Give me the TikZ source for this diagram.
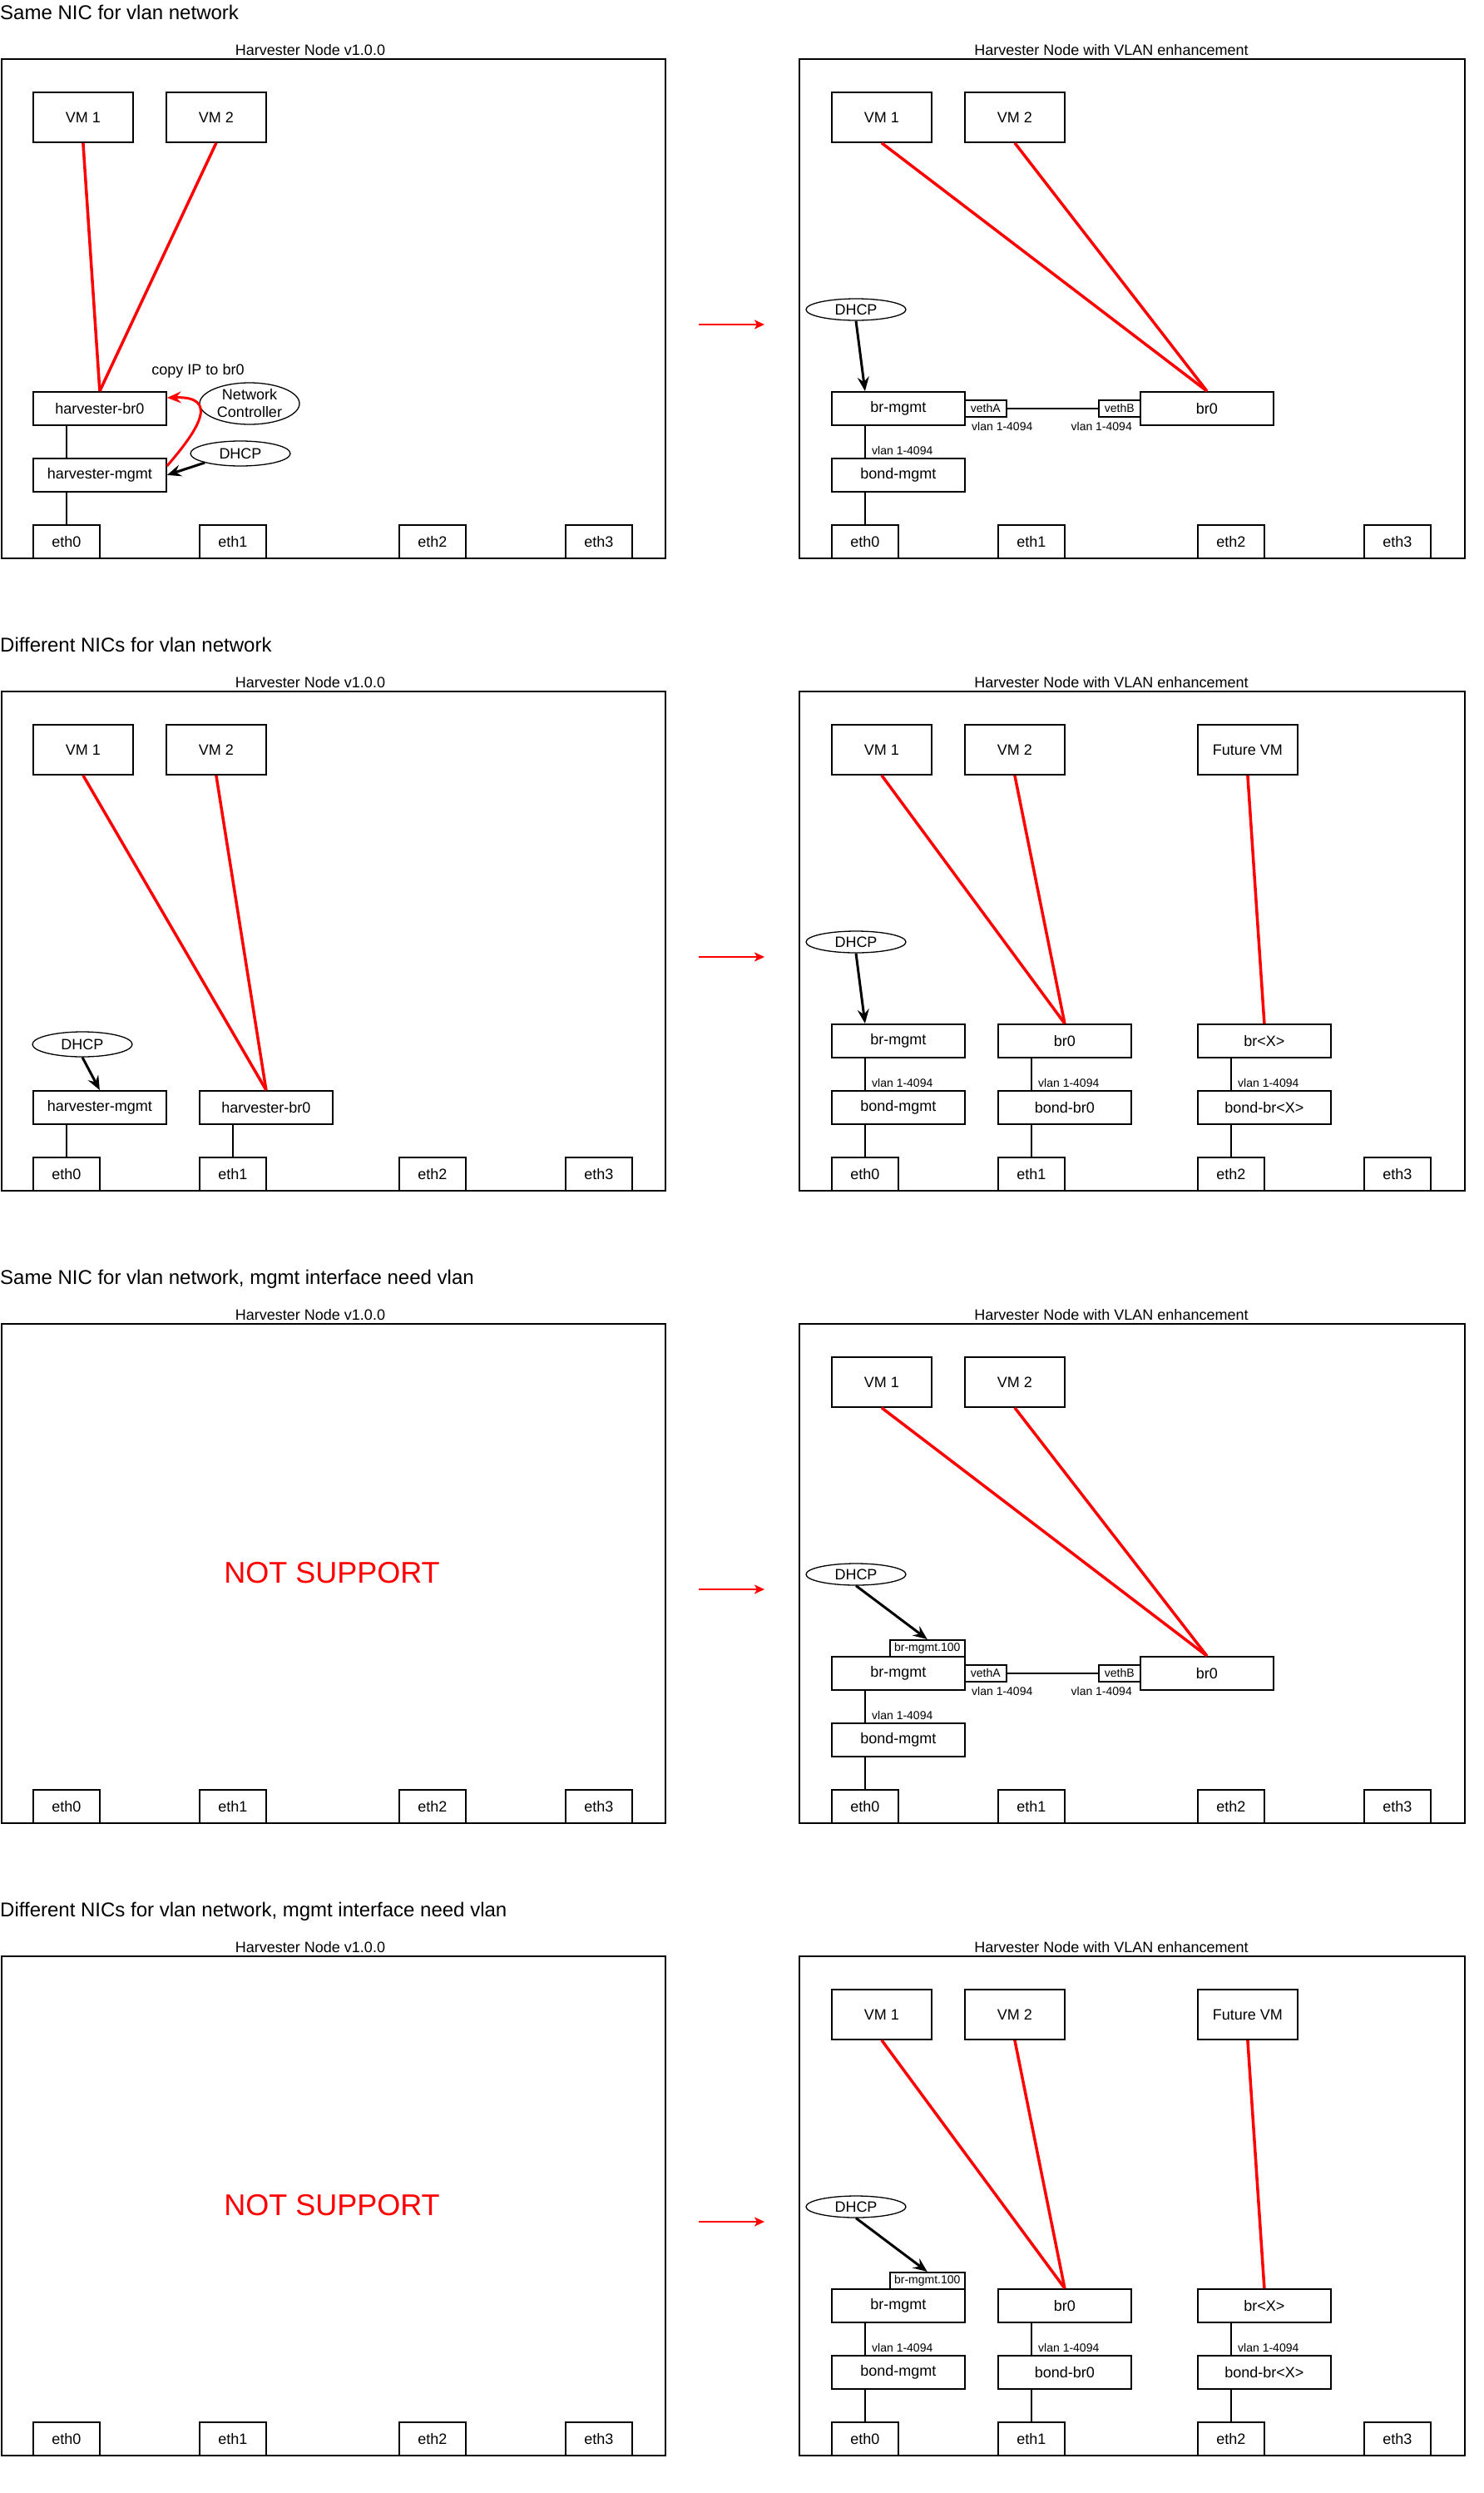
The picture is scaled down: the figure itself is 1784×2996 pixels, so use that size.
\documentclass[tikz,border=0pt]{standalone}
\usepackage{fontspec}
\setmainfont{Liberation Sans}
\usetikzlibrary{shapes.geometric,arrows.meta,calc}
\newcommand{\myfs}[1]{\fontsize{#1}{#1}\selectfont}
\tikzset{
  nbox/.style={draw, line width=1.8pt, rectangle, inner sep=0pt, anchor=north west, minimum width=160pt, minimum height=40pt, font=\myfs{18}},
  vmbox/.style={nbox, minimum width=120pt, minimum height=60pt},
  ethbox/.style={nbox, minimum width=80pt, minimum height=40pt},
  tagbox/.style={draw, line width=1.5pt, inner sep=0pt, anchor=north west, minimum width=50pt, minimum height=20pt, font=\myfs{14}},
  panelbox/.style={draw, line width=2pt, inner sep=0pt, anchor=north west, minimum width=#1, minimum height=600pt},
  panellabel/.style={anchor=base, font=\myfs{18}, inner sep=0pt},
  paneltitle/.style={anchor=base west, font=\myfs{24}, inner sep=0pt},
  smalllabel/.style={font=\myfs{14}, inner sep=0pt},
  oval/.style={draw, ellipse, line width=1.3pt, inner sep=0pt, minimum width=120pt, font=\myfs{18}},
  redline/.style={draw=red, line width=3.5pt},
  link/.style={line width=1.8pt},
  dhcparrow/.style={line width=3pt, -{Stealth[length=17pt,width=14pt,inset=6pt]}},
  redarrow/.style={draw=red, line width=3pt, -{Stealth[length=17pt,width=14pt,inset=6pt]}},
  flowarrow/.style={draw=red, line width=2pt, -{Stealth[length=12pt,width=11pt,inset=3pt]}},
  nosupport/.style={text=red, font=\myfs{36}},
}
% left frame: prefix, y offset, title
\newcommand{\leftframe}[3]{%
\begin{scope}[shift={(0,#2)}]
  \node[paneltitle] (#1t) at (0,23) {#3};
  \node[panelbox=798pt] (#1box) at (1,70) {};
  \node[panellabel] (#1lab) at (373,66) {Harvester Node v1.0.0};
  \node[ethbox] (#1e0) at (39,630) {eth0};
  \node[ethbox] (#1e1) at (239,630) {eth1};
  \node[ethbox] (#1e2) at (479,630) {eth2};
  \node[ethbox] (#1e3) at (679,630) {eth3};
\end{scope}}
% right frame: prefix, y offset
\newcommand{\rightframe}[2]{%
\begin{scope}[shift={(960,#2)}]
  \coordinate (#1as) at (-120,390);
  \coordinate (#1ae) at (-41,390);
  \draw[flowarrow] (#1as) -- (#1ae);
  \node[panelbox=800pt] (#1box) at (0,70) {};
  \node[panellabel] (#1lab) at (376,66) {Harvester Node with VLAN enhancement};
  \node[vmbox] (#1vm1) at (39,110) {VM 1};
  \node[vmbox] (#1vm2) at (199,110) {VM 2};
  \node[ethbox] (#1e0) at (39,630) {eth0};
  \node[ethbox] (#1e1) at (239,630) {eth1};
  \node[ethbox] (#1e2) at (479,630) {eth2};
  \node[ethbox] (#1e3) at (679,630) {eth3};
  \node[oval, minimum height=26pt] (#1dh) at (69,372) {DHCP};
\end{scope}}
% same-NIC content (inside a shifted scope)
\newcommand{\samecore}[1]{%
  \node[nbox] (#1bm) at (39,470) {br-mgmt};
  \node[nbox] (#1bo) at (39,550) {bond-mgmt};
  \node[tagbox] (#1va) at (199,480) {vethA};
  \node[tagbox] (#1vb) at (360,480) {vethB};
  \node[nbox] (#1br) at (410,470) {br0};
  \node[smalllabel, anchor=base west] (#1l1) at (208,517) {vlan 1-4094};
  \node[smalllabel, anchor=base east] (#1l2) at (401,517) {vlan 1-4094};
  \node[smalllabel, anchor=base west] (#1l3) at (88,546) {vlan 1-4094};
  \draw[link] (#1va.east) -- (#1vb.west);
  \draw[link] (#1e0 |- #1bm.south) -- (#1e0 |- #1bo.north);
  \draw[link] (#1e0 |- #1bo.south) -- (#1e0.north);
  \draw[redline] (#1vm1.south) -- (#1br.north);
  \draw[redline] (#1vm2.south) -- (#1br.north);
}
% different-NIC content
\newcommand{\diffcore}[1]{%
  \node[vmbox] (#1fvm) at (479,110) {Future VM};
  \node[nbox] (#1bm) at (39,470) {br-mgmt};
  \node[nbox] (#1br) at (239,470) {br0};
  \node[nbox] (#1bx) at (479,470) {br<X>};
  \node[nbox] (#1bo) at (39,550) {bond-mgmt};
  \node[nbox] (#1bb) at (239,550) {bond-br0};
  \node[nbox] (#1bbx) at (479,550) {bond-br<X>};
  \node[smalllabel, anchor=base west] (#1l1) at (88,546) {vlan 1-4094};
  \node[smalllabel, anchor=base west] (#1l2) at (288,546) {vlan 1-4094};
  \node[smalllabel, anchor=base west] (#1l3) at (528,546) {vlan 1-4094};
  \draw[link] (#1e0 |- #1bm.south) -- (#1e0 |- #1bo.north);
  \draw[link] (#1e0 |- #1bo.south) -- (#1e0.north);
  \draw[link] (#1e1 |- #1br.south) -- (#1e1 |- #1bb.north);
  \draw[link] (#1e1 |- #1bb.south) -- (#1e1.north);
  \draw[link] (#1e2 |- #1bx.south) -- (#1e2 |- #1bbx.north);
  \draw[link] (#1e2 |- #1bbx.south) -- (#1e2.north);
  \draw[redline] (#1vm1.south) -- (#1br.north);
  \draw[redline] (#1vm2.south) -- (#1br.north);
  \draw[redline] (#1fvm.south) -- (#1bx.north);
}
\begin{document}
\begin{tikzpicture}[x=1pt,y=-1pt]
\path[fill=white, use as bounding box] (0,0) rectangle (1784,2996);

% ---------- Panel 1 ----------
\leftframe{pa}{0}{Same NIC for vlan network}
\begin{scope}
  \node[vmbox] (pavm1) at (39,110) {VM 1};
  \node[vmbox] (pavm2) at (199,110) {VM 2};
  \node[nbox] (pahb) at (39,470) {harvester-br0};
  \node[nbox] (pahm) at (39,550) {harvester-mgmt};
  \node[oval, minimum height=50pt] (panc) at (300,485) {};
  \node[font=\fontsize{18}{21}\selectfont, align=center, inner sep=0pt] (panct) at (panc) {Network\\Controller};
  \node[oval, minimum height=30pt] (padh) at (289,545) {DHCP};
  \node[anchor=base, font=\myfs{18}, inner sep=0pt] (pacopy) at (238,450) {copy IP to br0};
  \draw[redline] (pavm1.south) -- (pahb.north);
  \draw[redline] (pavm2.south) -- (pahb.north);
  \draw[link] (pae0 |- pahb.south) -- (pae0 |- pahm.north);
  \draw[link] (pae0 |- pahm.south) -- (pae0.north);
  \draw[dhcparrow] (padh.south west) -- (pahm.east);
  \draw[redarrow] ($(pahm.north east)+(0,10)$) .. controls ($(pahm.north east)+(39,-35)$) and ($(pahb.north east)+(63,6)$) .. ($(pahb.north east)+(0,8)$);
\end{scope}
\rightframe{pb}{0}
\begin{scope}[shift={(960,0)}]
  \samecore{pb}
  \draw[dhcparrow] (pbdh.south) -- (pbe0 |- pbbm.north);
\end{scope}

% ---------- Panel 2 ----------
\leftframe{pc}{760}{Different NICs for vlan network}
\begin{scope}[shift={(0,760)}]
  \node[vmbox] (pcvm1) at (39,110) {VM 1};
  \node[vmbox] (pcvm2) at (199,110) {VM 2};
  \node[nbox] (pchm) at (39,550) {harvester-mgmt};
  \node[nbox] (pchb) at (239,550) {harvester-br0};
  \node[oval, minimum height=30pt] (pcdh) at (99,495) {DHCP};
  \draw[redline] (pcvm1.south) -- (pchb.north);
  \draw[redline] (pcvm2.south) -- (pchb.north);
  \draw[link] (pce0 |- pchm.south) -- (pce0.north);
  \draw[link] (pce1 |- pchb.south) -- (pce1.north);
  \draw[dhcparrow] (pcdh.south) -- (pchm.north);
\end{scope}
\rightframe{pd}{760}
\begin{scope}[shift={(960,760)}]
  \diffcore{pd}
  \draw[dhcparrow] (pddh.south) -- (pde0 |- pdbm.north);
\end{scope}

% ---------- Panel 3 ----------
\leftframe{pe}{1520}{Same NIC for vlan network, mgmt interface need vlan}
\node[nosupport] (pens) at (399,1890) {NOT SUPPORT};
\rightframe{pf}{1520}
\begin{scope}[shift={(960,1520)}]
  \samecore{pf}
  \node[tagbox, minimum width=90pt] (pftag) at (109,450) {br-mgmt.100};
  \draw[dhcparrow] (pfdh.south) -- (pftag.north);
\end{scope}

% ---------- Panel 4 ----------
\leftframe{pg}{2280}{Different NICs for vlan network, mgmt interface need vlan}
\node[nosupport] (pgns) at (399,2650) {NOT SUPPORT};
\rightframe{ph}{2280}
\begin{scope}[shift={(960,2280)}]
  \diffcore{ph}
  \node[tagbox, minimum width=90pt] (phtag) at (109,450) {br-mgmt.100};
  \draw[dhcparrow] (phdh.south) -- (phtag.north);
\end{scope}
\end{tikzpicture}
\end{document}
